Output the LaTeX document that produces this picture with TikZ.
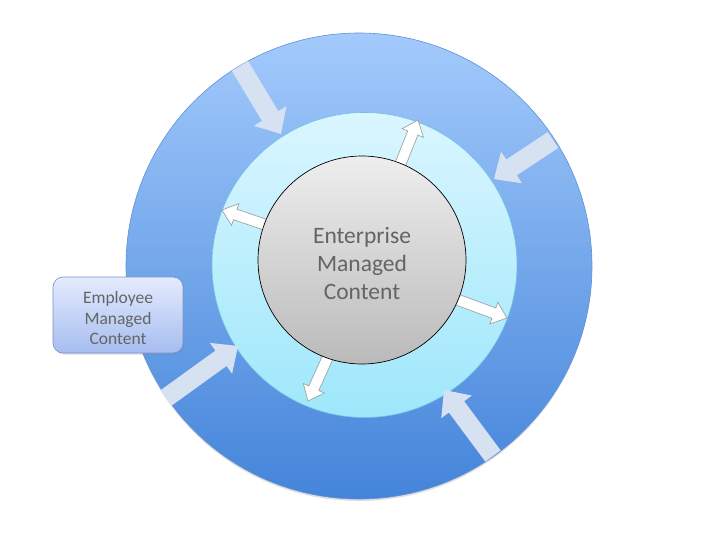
\documentclass[tikz,border=0pt]{standalone}
\usepackage{fontspec}
\setmainfont{Carlito}
\usetikzlibrary{calc,shadows}
\definecolor{outtop}{RGB}{163,202,252}
\definecolor{outbot}{RGB}{68,132,218}
\definecolor{outedge}{RGB}{95,145,215}
\definecolor{midtop}{RGB}{218,246,255}
\definecolor{midbot}{RGB}{158,231,251}
\definecolor{midedge}{RGB}{110,195,225}
\definecolor{intop}{RGB}{238,238,238}
\definecolor{inbot}{RGB}{186,186,186}
\definecolor{txtgray}{RGB}{100,100,100}
\definecolor{inarrow}{RGB}{214,226,242}
\definecolor{boxtop}{RGB}{228,235,253}
\definecolor{boxbot}{RGB}{166,189,240}
\definecolor{boxedge}{RGB}{120,145,205}
\newcommand\blockarrow[6]{%
  \coordinate (#1h) at ($(#2)!#5!(#1)$);
  \fill[#6] ($(#1)!#3!90:(#2)$) -- ($(#1h)!#3!90:(#2)$) -- ($(#1h)!#4!90:(#2)$)
    -- (#2) -- ($(#1h)!#4!-90:(#2)$) -- ($(#1h)!#3!-90:(#2)$) -- ($(#1)!#3!-90:(#2)$) -- cycle;}
\tikzset{
  ring/.style={circle, inner sep=0pt},
  inarr/.style={fill=inarrow},
  outarr/.style={fill=white, draw=gray!80, line width=0.6pt, line join=miter},
}
\begin{document}
\begin{tikzpicture}[x=1pt,y=-1pt]
\useasboundingbox (0,0) rectangle (720,540);
\node[ring, minimum size=466pt, top color=outtop, bottom color=outbot, draw=outedge, line width=0.6pt,
  drop shadow={opacity=0.25, shadow xshift=0pt, shadow yshift=-2pt}] (outer) at (359,266) {};
\node[ring, minimum size=305pt, top color=midtop, bottom color=midbot, draw=midedge, line width=0.6pt] (middle) at (364.5,265) {};
% inward arrows
\coordinate (i1) at (240,66);  \coordinate (t1) at (281,134);
\coordinate (i2) at (553,140); \coordinate (t2) at (494,179);
\coordinate (i3) at (166,398); \coordinate (t3) at (238,346);
\coordinate (i4) at (493,456); \coordinate (t4) at (444,390);
\blockarrow{i1}{t1}{9.5pt}{19pt}{21pt}{inarr}
\blockarrow{i2}{t2}{9.5pt}{19pt}{21pt}{inarr}
\blockarrow{i3}{t3}{9.5pt}{19pt}{21pt}{inarr}
\blockarrow{i4}{t4}{9.5pt}{19pt}{21pt}{inarr}
% outward arrows
\coordinate (o1) at (396,175); \coordinate (u1) at (418,120);
\coordinate (o2) at (275,228); \coordinate (u2) at (222,210);
\coordinate (o3) at (450,297); \coordinate (u3) at (507,318);
\coordinate (o4) at (332,348); \coordinate (u4) at (308,401);
\blockarrow{o1}{u1}{5.5pt}{11.5pt}{14pt}{outarr}
\blockarrow{o2}{u2}{5.5pt}{11.5pt}{14pt}{outarr}
\blockarrow{o3}{u3}{5.5pt}{11.5pt}{14pt}{outarr}
\blockarrow{o4}{u4}{5.5pt}{11.5pt}{14pt}{outarr}
\node[ring, minimum size=208pt, top color=intop, bottom color=inbot, draw=black, line width=0.7pt] (inner) at (362,260) {};
\node[align=center, text=txtgray, font=\fontsize{23.5}{28}\selectfont] (etext) at (362,264) {Enterprise\\Managed\\Content};
\node[rounded corners=10pt, minimum width=130pt, minimum height=76pt, top color=boxtop, bottom color=boxbot,
  draw=boxedge, line width=0.6pt, drop shadow={opacity=0.25, shadow xshift=1pt, shadow yshift=-1.5pt}] (emp) at (118,315) {};
\node[align=center, text=txtgray, font=\fontsize{17.5}{20.7}\selectfont] (emptext) at (118,318) {Employee\\Managed\\Content};
\end{tikzpicture}
\end{document}
